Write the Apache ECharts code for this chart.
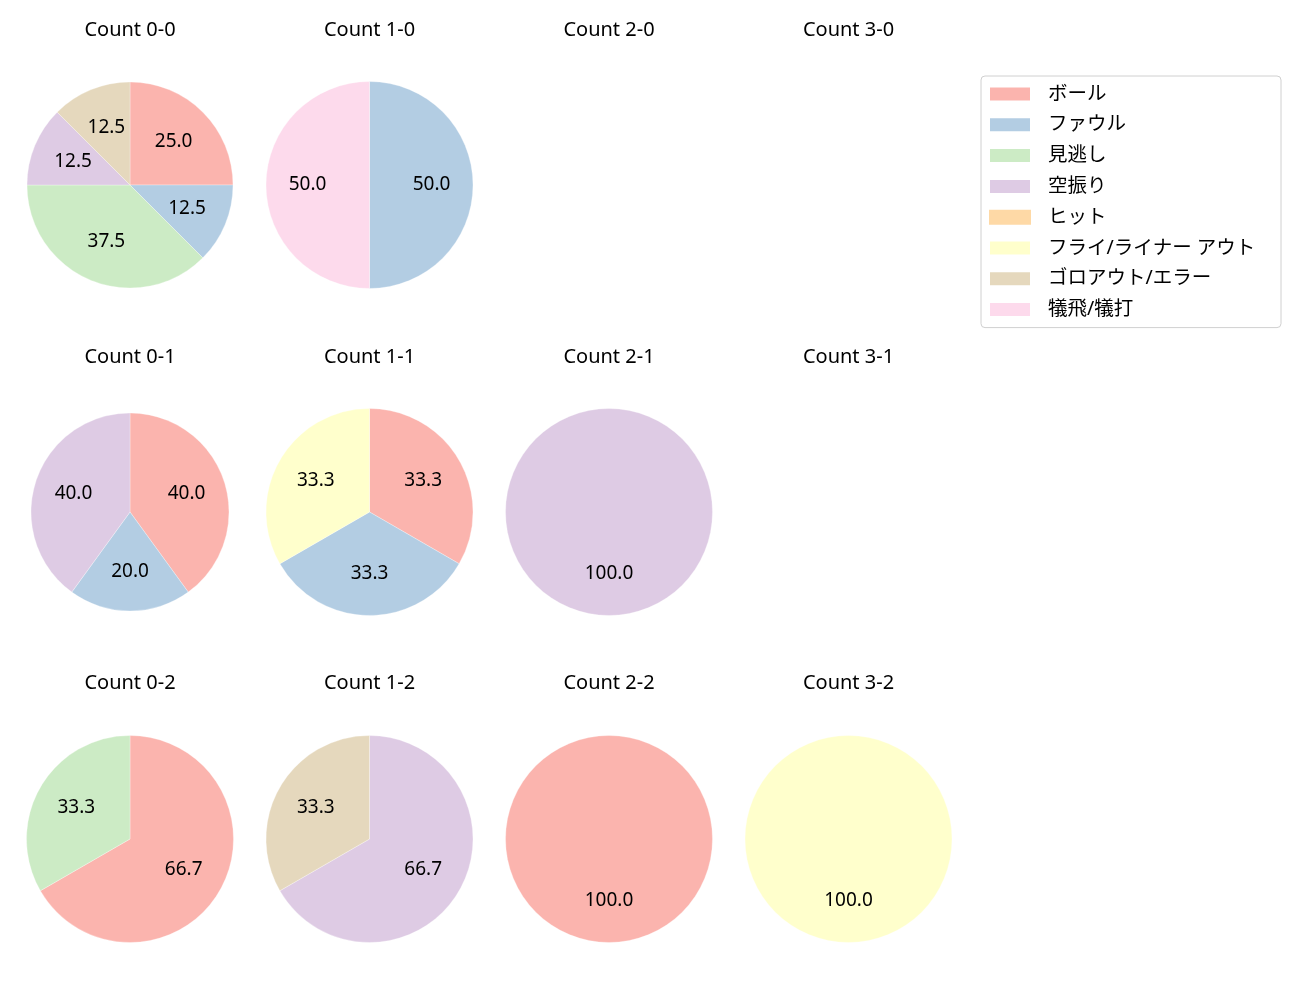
<!DOCTYPE html>
<html>
<head>
<meta charset="utf-8">
<script src="https://cdn.jsdelivr.net/npm/echarts@6/dist/echarts.min.js"></script>
<style>
html,body{margin:0;padding:0;background:#fff;}
#main{width:1300px;height:1000px;}
</style>
</head>
<body>
<div id="main"></div>
<script>
const categories = ['ボール','ファウル','見逃し','空振り','ヒット','フライ/ライナー アウト','ゴロアウト/エラー','犠飛/犠打'];
const colors = ['#fbb4ae','#b3cde3','#ccebc5','#decbe4','#fed9a6','#ffffcc','#e5d8bd','#fddaec'];
const countLabels = ['0-0','1-0','2-0','3-0','0-1','1-1','2-1','3-1','0-2','1-2','2-2','3-2'];
const c00 = [2,1,3,1,0,0,1,0];
const c10 = [0,1,0,0,0,0,0,1];
const c20 = [0,0,0,0,0,0,0,0];
const c30 = [0,0,0,0,0,0,0,0];
const c01 = [2,1,0,2,0,0,0,0];
const c11 = [1,1,0,0,0,1,0,0];
const c21 = [0,0,0,1,0,0,0,0];
const c31 = [0,0,0,0,0,0,0,0];
const c02 = [2,0,1,0,0,0,0,0];
const c12 = [0,0,0,2,0,0,1,0];
const c22 = [1,0,0,0,0,0,0,0];
const c32 = [0,0,0,0,0,1,0,0];
const counts = [c00,c10,c20,c30,c01,c11,c21,c31,c02,c12,c22,c32];

const FONT = '"Noto Sans","Noto Sans CJK JP",sans-serif';
const colX = [130, 369.5, 609, 848.5];
const rowY = [185, 512, 839];
const titleY = [20, 347, 673];
const radii = [103, 103.5, 103.5, 103.5, 99, 103.5, 103.5, 103.5, 103.5, 103.5, 103.5, 103.5];

const titles = [];
const series = [];
counts.forEach((arr, i) => {
  const col = i % 4, row = Math.floor(i / 4);
  titles.push({
    text: 'Count ' + countLabels[i],
    left: colX[col], top: titleY[row], textAlign: 'center', padding: 0,
    textStyle: {fontFamily: FONT, fontSize: 20, fontWeight: 'normal', color: '#000'}
  });
  const total = arr.reduce((a, b) => a + b, 0);
  if (total === 0) return;
  const data = [];
  const lblData = [];
  arr.forEach((v, k) => {
    if (v > 0) {
      data.push({name: categories[k], value: v, itemStyle: {color: colors[k]}});
      lblData.push({name: 'l' + k, value: v});
    }
  });
  const r = radii[i];
  series.push({
    type: 'pie', center: [colX[col], rowY[row]], radius: [0, r],
    startAngle: 90, clockwise: true, silent: true, animation: false,
    label: {show: false}, labelLine: {show: false},
    itemStyle: {borderColor: '#fff', borderWidth: 0.3},
    emphasis: {disabled: true},
    data: data
  });
  series.push({
    type: 'pie', center: [colX[col], rowY[row]], radius: [r * 0.14, r],
    startAngle: 90, clockwise: true, silent: true, animation: false,
    itemStyle: {color: 'rgba(0,0,0,0)'},
    label: {show: true, position: 'inside', fontFamily: FONT, fontSize: 19, color: '#000',
      formatter: p => (p.value / total * 100).toFixed(1)},
    labelLine: {show: false},
    emphasis: {disabled: true},
    data: lblData
  });
});

// legend provider series (invisible)
series.push({
  type: 'pie', center: [-500, -500], radius: [0, 1], silent: true, animation: false,
  label: {show: false}, labelLine: {show: false},
  data: categories.map((c, k) => ({name: c, value: 1, itemStyle: {color: colors[k]}}))
});

const chart = echarts.init(document.getElementById('main'), null, {renderer: 'canvas'});
chart.setOption({
  backgroundColor: '#fff',
  animation: false,
  title: titles,
  legend: {
    orient: 'vertical', left: 981, top: 76,
    data: categories.map((c, k) => ({name: c, itemStyle: {color: colors[k]}})),
    icon: 'rect', itemWidth: 42, itemHeight: 15, itemGap: 10.8,
    padding: [8, 11, 8, 7],
    borderColor: '#d0d0d0', borderWidth: 1, borderRadius: 4,
    selectedMode: false,
    textStyle: {fontFamily: FONT, fontSize: 19.5, lineHeight: 20, color: '#000',
      padding: [0, 0, 0, 12], width: 222}
  },
  series: series
});
</script>
</body>
</html>
